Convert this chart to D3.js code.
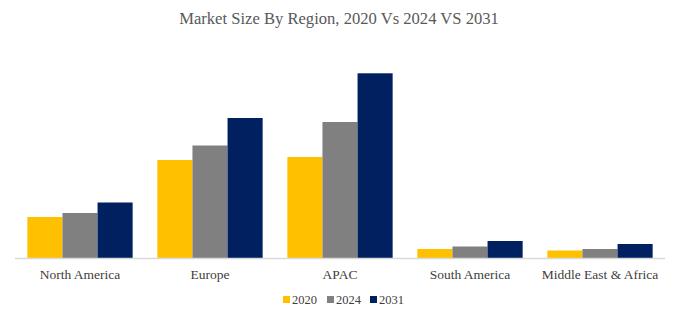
<!DOCTYPE html>
<html lang="en">
<head>
<meta charset="utf-8" />
<title>Market Size By Region</title>
<script src="https://cdn.jsdelivr.net/npm/d3@7"></script>
<style>
body { margin:0; background:#fff; }
text { font-family: "Liberation Serif", "DejaVu Serif", serif; }
</style>
</head>
<body>
<div id="chart"></div>
<script type="text/javascript">
// data (arbitrary units)
var regions = ["North America", "Europe", "APAC", "South America", "Middle East & Africa"];
var years = ["2020", "2024", "2031"];
var v2020 = [41, 98, 101, 9, 7.5];
var v2024 = [45, 112.5, 136, 11.5, 9];
var v2031 = [55.5, 140, 184.7, 17, 14];
var colors = ["#FFC000", "#808080", "#002060"];

var series = [v2020, v2024, v2031];
var W = 681, H = 322;

var svg = d3.select("#chart").append("svg")
    .attr("width", W)
    .attr("height", H);

svg.append("text")
   .attr("x", 339)
   .attr("y", 24)
   .attr("text-anchor", "middle")
   .attr("font-size", 16.6)
   .attr("fill", "#595959")
   .text("Market Size By Region, 2020 Vs 2024 VS 2031");

var x = d3.scaleBand().domain(regions).range([15, 665]).paddingInner(0.19).paddingOuter(0.095);
var xs = d3.scaleBand().domain(years).range([0, x.bandwidth()]);
var y = d3.scaleLinear().domain([0, 200]).range([258, 58]);

var g = svg.append("g");
regions.forEach(function (r, i) {
  g.selectAll(null).data(years).enter().append("rect")
    .attr("x", function (d) { return x(r) + xs(d); })
    .attr("width", xs.bandwidth())
    .attr("y", function (d, j) { return y(series[j][i]); })
    .attr("height", function (d, j) { return y(0) - y(series[j][i]); })
    .attr("fill", function (d, j) { return colors[j]; });
});

// x axis
var xAxis = svg.append("g")
   .attr("transform", "translate(0,258)")
   .call(d3.axisBottom(x).tickSize(0).tickPadding(11));
xAxis.select(".domain").attr("stroke", "#d9d9d9").attr("stroke-width", 1.5)
   .attr("d", "M15,0.5H665");
xAxis.selectAll("text")
   .attr("font-family", "Liberation Serif, serif")
   .attr("font-size", 13.5)
   .attr("fill", "#404040");

// legend
var lx = [283, 327, 370];
var legend = svg.append("g");
years.forEach(function (yr, j) {
  legend.append("rect").attr("x", lx[j]).attr("y", 296).attr("width", 7).attr("height", 7).attr("fill", colors[j]);
  legend.append("text").attr("x", lx[j] + 9).attr("y", 304)
    .attr("font-size", 12.5).attr("fill", "#404040").text(yr);
});
</script>
</body>
</html>
